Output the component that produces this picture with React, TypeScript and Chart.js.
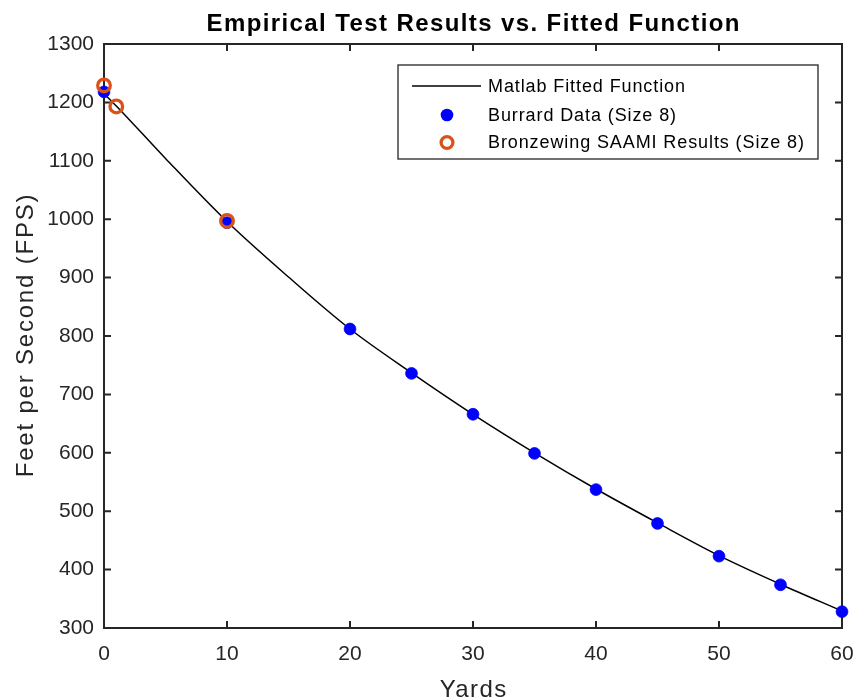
import React, { useEffect, useRef } from "react";
import { Chart, registerables } from "chart.js";
Chart.register(...registerables);

const titleText = "Empirical Test Results vs. Fitted Function";
const xLabel = "Yards";
const yLabel = "Feet per Second (FPS)";
const seriesNames = [
  "Matlab Fitted Function",
  "Burrard Data (Size 8)",
  "Bronzewing SAAMI Results (Size 8)",
];

const fitX = [0, 1, 5, 10, 15, 20, 25, 30, 35, 40, 45, 50, 55, 60];
const fitY = [1215, 1194, 1104, 996, 901, 812, 737, 666, 600, 538, 480, 424, 375, 329];

const burrardX = [0, 10, 20, 25, 30, 35, 40, 45, 50, 55, 60];
const burrardY = [1218, 994, 812, 736, 666, 599, 537, 479, 423, 374, 328];

const saamiX = [0, 1, 10];
const saamiY = [1229, 1193, 997];

const xTicks = [0, 10, 20, 30, 40, 50, 60];
const yTicks = [300, 400, 500, 600, 700, 800, 900, 1000, 1100, 1200, 1300];

const FONT = "'Liberation Sans', Arial, Helvetica, sans-serif";
const AX = "#262626";
const BLUE = "#0000FF";
const ORANGE = "#D95319";

const toPts = (xs: number[], ys: number[]) => xs.map((x, i) => ({ x, y: ys[i] }));

const boxPlugin = {
  id: "matlabBox",
  beforeDatasetsDraw(chart: any) {
    const { ctx, chartArea: a, scales } = chart;
    ctx.save();
    ctx.strokeStyle = AX;
    ctx.lineWidth = 2;
    ctx.strokeRect(a.left, a.top, a.right - a.left, a.bottom - a.top);
    const tl = 7;
    ctx.beginPath();
    xTicks.forEach((v) => {
      const px = scales.x.getPixelForValue(v);
      ctx.moveTo(px, a.bottom);
      ctx.lineTo(px, a.bottom - tl);
      ctx.moveTo(px, a.top);
      ctx.lineTo(px, a.top + tl);
    });
    yTicks.forEach((v) => {
      const py = scales.y.getPixelForValue(v);
      ctx.moveTo(a.left, py);
      ctx.lineTo(a.left + tl, py);
      ctx.moveTo(a.right, py);
      ctx.lineTo(a.right - tl, py);
    });
    ctx.stroke();
    ctx.restore();
  },
  afterDraw(chart: any) {
    const { ctx, chartArea: a } = chart;
    const cx = (a.left + a.right) / 2;
    const cy = (a.top + a.bottom) / 2;
    ctx.save();
    (ctx as any).letterSpacing = "1.4px";
    ctx.fillStyle = "#000";
    ctx.font = `bold 24px ${FONT}`;
    ctx.textAlign = "center";
    ctx.textBaseline = "alphabetic";
    ctx.fillText(titleText, cx + 0.7, 31);
    (ctx as any).letterSpacing = "1.4px";
    ctx.fillStyle = AX;
    ctx.font = `24px ${FONT}`;
    ctx.fillText(xLabel, cx + 0.7, 696.5);
    (ctx as any).letterSpacing = "1.8px";
    ctx.save();
    ctx.translate(33, cy);
    ctx.rotate(-Math.PI / 2);
    ctx.fillText(yLabel, 1, 0);
    ctx.restore();

    const L = 398, T = 65, R = 818, B = 159;
    ctx.fillStyle = "#fff";
    ctx.fillRect(L, T, R - L, B - T);
    ctx.strokeStyle = AX;
    ctx.lineWidth = 1.3;
    ctx.strokeRect(L, T, R - L, B - T);
    const rows = [86, 115, 142.5];
    ctx.strokeStyle = "#000";
    ctx.lineWidth = 1.5;
    ctx.beginPath();
    ctx.moveTo(412, rows[0]);
    ctx.lineTo(481, rows[0]);
    ctx.stroke();
    ctx.fillStyle = BLUE;
    ctx.beginPath();
    ctx.arc(447, rows[1], 6.3, 0, Math.PI * 2);
    ctx.fill();
    ctx.strokeStyle = ORANGE;
    ctx.lineWidth = 3.3;
    ctx.beginPath();
    ctx.arc(447, rows[2], 5.9, 0, Math.PI * 2);
    ctx.stroke();
    (ctx as any).letterSpacing = "0.9px";
    ctx.fillStyle = "#000";
    ctx.font = `18px ${FONT}`;
    ctx.textAlign = "left";
    ctx.textBaseline = "middle";
    seriesNames.forEach((s, i) => ctx.fillText(s, 488, rows[i] + 1));
    (ctx as any).letterSpacing = "0px";
    ctx.restore();
  },
};

export default function App() {
  const ref = useRef<HTMLCanvasElement | null>(null);
  useEffect(() => {
    if (!ref.current) return;
    const chart = new Chart(ref.current, {
      type: "scatter",
      data: {
        datasets: [
          {
            label: seriesNames[2],
            data: toPts(saamiX, saamiY),
            pointRadius: 6.3,
            pointBorderWidth: 3.3,
            pointBackgroundColor: "rgba(0,0,0,0)",
            pointBorderColor: ORANGE,
            showLine: false,
            clip: false,
          } as any,
          {
            label: seriesNames[1],
            data: toPts(burrardX, burrardY),
            pointRadius: 5.9,
            pointBorderWidth: 0.8,
            pointBackgroundColor: BLUE,
            pointBorderColor: BLUE,
            showLine: false,
            clip: false,
          } as any,
          {
            label: seriesNames[0],
            data: toPts(fitX, fitY),
            showLine: true,
            pointRadius: 0,
            borderColor: "#000",
            borderWidth: 1.5,
            cubicInterpolationMode: "monotone",
            fill: false,
            clip: false,
          } as any,
        ],
      },
      options: {
        responsive: false,
        maintainAspectRatio: false,
        animation: false,
        events: [],
        layout: { padding: { top: 44, right: 17, left: 0, bottom: 0 } },
        plugins: {
          legend: { display: false },
          title: { display: false },
          tooltip: { enabled: false },
        },
        scales: {
          x: {
            type: "linear",
            min: 0,
            max: 60,
            afterBuildTicks: (s: any) => {
              s.ticks = xTicks.map((v) => ({ value: v }));
            },
            afterFit: (s: any) => {
              s.height = 72;
              s.paddingLeft = 0;
              s.paddingRight = 0;
            },
            grid: { display: false, drawTicks: false },
            border: { display: false },
            ticks: {
              font: { family: FONT, size: 21 },
              color: AX,
              padding: 13.4,
              maxRotation: 0,
              autoSkip: false,
              callback: (v: any) => String(v),
            },
          },
          y: {
            type: "linear",
            min: 300,
            max: 1300,
            afterBuildTicks: (s: any) => {
              s.ticks = yTicks.map((v) => ({ value: v }));
            },
            afterFit: (s: any) => {
              s.width = 104;
              s.paddingTop = 0;
              s.paddingBottom = 0;
            },
            grid: { display: false, drawTicks: false },
            border: { display: false },
            ticks: {
              font: { family: FONT, size: 21 },
              color: AX,
              padding: 10,
              autoSkip: false,
              callback: (v: any) => String(v),
            },
          },
        },
      } as any,
      plugins: [boxPlugin],
    });
    return () => chart.destroy();
  }, []);
  return (
    <div style={{ position: "absolute", left: 0, top: 0, width: 859, height: 700, background: "#fff" }}>
      <canvas ref={ref} width={859} height={700} style={{ display: "block", width: 859, height: 700 }} />
    </div>
  );
}
